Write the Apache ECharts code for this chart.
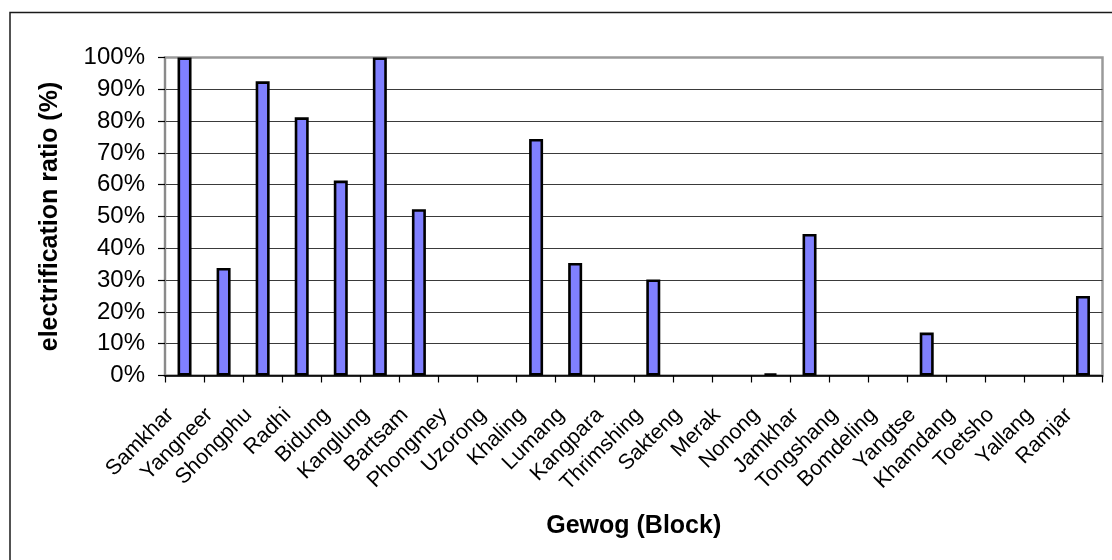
<!DOCTYPE html>
<html>
<head>
<meta charset="utf-8">
<script src="https://cdn.jsdelivr.net/npm/echarts@6/dist/echarts.min.js"></script>
<style>
  html, body { margin: 0; padding: 0; background: #fff; }
  #chart { width: 1112px; height: 560px; }
</style>
</head>
<body>
<div id="chart"></div>
<script>
// Gewogs (blocks) and their household electrification ratio, in percent
const gewogs = ['Samkhar', 'Yangneer', 'Shongphu', 'Radhi', 'Bidung', 'Kanglung', 'Bartsam',
  'Phongmey', 'Uzorong', 'Khaling', 'Lumang', 'Kangpara', 'Thrimshing', 'Sakteng', 'Merak',
  'Nonong', 'Jamkhar', 'Tongshang', 'Bomdeling', 'Yangtse', 'Khamdang', 'Toetsho', 'Yallang', 'Ramjar'];
const electrificationRatio = [100, 33.8, 92.5, 81.2, 61.3, 100, 52.3,
  0, 0, 74.4, 35.4, 0, 30.2, 0, 0,
  0.6, 44.5, 0, 0, 13.5, 0, 0, 0, 25.0];
const yTicks = { min: 0, max: 100, step: 10 };

const FONT = '"Liberation Sans", Arial, sans-serif';

// gridline colours: the top line sits on the grey plot border
const gridColors = [];
for (let v = yTicks.min; v <= yTicks.max; v += yTicks.step) {
  gridColors.push(v === yTicks.max ? '#9a9a9a' : '#3a3a3a');
}

// empty gewogs get no outline, so nothing is stroked along the axis
const barData = electrificationRatio.map(v =>
  v === 0 ? { value: v, itemStyle: { borderWidth: 0 } } : v);

const chart = echarts.init(document.getElementById('chart'), null, { renderer: 'canvas' });
chart.setOption({
  animation: false,
  backgroundColor: '#ffffff',
  textStyle: { fontFamily: FONT, color: '#000' },
  graphic: [{
    type: 'rect',
    z: 100,
    silent: true,
    shape: { x: 10, y: 12.5, width: 1200, height: 700 },
    style: { fill: 'none', stroke: '#1a1a1a', lineWidth: 1.5 }
  }],
  grid: {
    left: 165, right: 9.5, top: 57.5, bottom: 184.5,
    show: true, borderColor: '#9a9a9a', borderWidth: 2.5, backgroundColor: '#ffffff'
  },
  xAxis: {
    type: 'category',
    data: gewogs,
    name: 'Gewog (Block)',
    nameLocation: 'middle',
    nameGap: 138,
    nameTextStyle: { fontFamily: FONT, fontSize: 25, fontWeight: 'bold', color: '#000' },
    axisLine: { show: true, lineStyle: { color: '#000', width: 1.5 } },
    axisTick: { show: true, alignWithLabel: false, length: 7, lineStyle: { color: '#000', width: 1.2 } },
    axisLabel: {
      interval: 0, rotate: 45, margin: 22,
      padding: [0, 20, 0, 0],
      fontFamily: FONT, fontSize: 21.5, color: '#000'
    },
    splitLine: { show: false }
  },
  yAxis: {
    type: 'value',
    min: yTicks.min, max: yTicks.max, interval: yTicks.step,
    name: 'electrification ratio (%)',
    nameLocation: 'middle',
    nameGap: 102,
    nameTextStyle: { fontFamily: FONT, fontSize: 25, fontWeight: 'bold', color: '#000' },
    axisLine: { show: true, lineStyle: { color: '#8a8a8a', width: 2 } },
    axisTick: { show: true, length: 7, lineStyle: { color: '#000', width: 1.2 } },
    axisLabel: {
      margin: 20, fontFamily: FONT, fontSize: 24, color: '#000',
      formatter: '{value}%'
    },
    splitLine: { show: true, lineStyle: { color: gridColors, width: 1.2 } }
  },
  series: [{
    type: 'bar',
    data: barData,
    barWidth: 14,
    itemStyle: { color: '#8080ff', borderColor: '#000', borderWidth: 2.6 }
  }]
});
</script>
</body>
</html>
